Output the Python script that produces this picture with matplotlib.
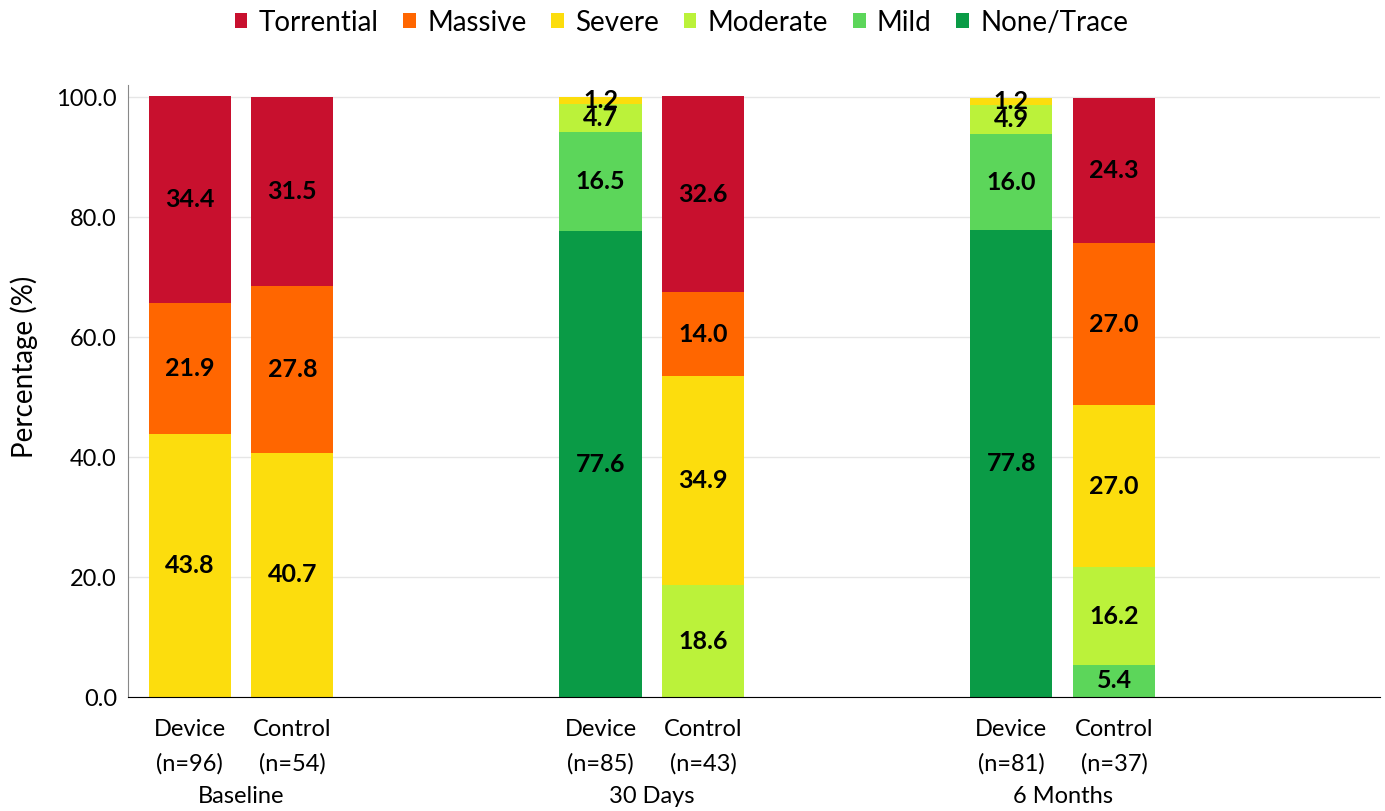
import matplotlib.pyplot as plt
import numpy as np

# data, one value per bar (Device/Control for each time point)
bar_labels = ['Device\n(n=96)', 'Control\n(n=54)', 'Device\n(n=85)', 'Control\n(n=43)',
              'Device\n(n=81)', 'Control\n(n=37)']
groups = ['Baseline', '30 Days', '6 Months']
none_trace = [0, 0, 77.6, 0, 77.8, 0]
mild = [0, 0, 16.5, 0, 16.0, 5.4]
moderate = [0, 0, 4.7, 18.6, 4.9, 16.2]
severe = [43.8, 40.7, 1.2, 34.9, 1.2, 27.0]
massive = [21.9, 27.8, 0, 14.0, 0, 27.0]
torrential = [34.4, 31.5, 0, 32.6, 0, 24.3]

series = [('None/Trace', none_trace, '#0A9B46'),
          ('Mild', mild, '#5CD65A'),
          ('Moderate', moderate, '#BBF23A'),
          ('Severe', severe, '#FCDD0D'),
          ('Massive', massive, '#FF6600'),
          ('Torrential', torrential, '#C8102E')]

plt.rcParams['font.family'] = ['Lato', 'DejaVu Sans']

x = np.array([0, 1, 4, 5, 8, 9])
fig = plt.figure(figsize=(13.85, 8.11), dpi=100)
ax = fig.add_axes([128/1385, 1-697/811, (1380-128)/1385, (697-85)/811])

bottom = np.zeros(len(x))
handles = {}
for name, vals, col in series:
    vals = np.array(vals, dtype=float)
    b = ax.bar(x, vals, 0.8, bottom=bottom, color=col, label=name, zorder=2)
    handles[name] = b
    for xi, v, b0 in zip(x, vals, bottom):
        if v > 0:
            ax.text(xi, b0 + v/2, '%.1f' % v, ha='center', va='center',
                    fontsize=18, fontweight='bold', color='black', zorder=3)
    bottom += vals

ax.set_xlim(-0.6, 11.59)
ax.set_ylim(0, 102)
ax.set_yticks(np.arange(0, 101, 20))
ax.set_yticklabels(['%.1f' % v for v in np.arange(0, 101, 20)], fontsize=17)
ax.set_xticks(x)
ax.set_xticklabels(bar_labels, fontsize=17, linespacing=1.75)
ax.tick_params(axis='y', length=0, pad=8)
ax.tick_params(axis='x', length=0, pad=16)
ax.grid(axis='y', color='#E6E6E6', linewidth=1, zorder=0)
for s in ['top', 'right']:
    ax.spines[s].set_visible(False)
ax.spines['left'].set_color('#888888')
ax.spines['bottom'].set_color('black')
ax.set_ylabel('Percentage (%)', fontsize=20, labelpad=10)
ax.yaxis.set_label_coords(-0.072, 0.54)

for i, g in enumerate(groups):
    ax.text((x[2*i] + x[2*i+1])/2, -0.163, g, transform=ax.get_xaxis_transform(),
            ha='center', va='center', fontsize=17)

order = ['Torrential', 'Massive', 'Severe', 'Moderate', 'Mild', 'None/Trace']
fig.legend([handles[n] for n in order], order, loc='center', ncol=6,
           bbox_to_anchor=(0.492, 0.972), frameon=False, fontsize=20,
           handlelength=0.45, handleheight=0.45, handletextpad=0.4, columnspacing=0.9)

fig.savefig('out.png', dpi=100)
